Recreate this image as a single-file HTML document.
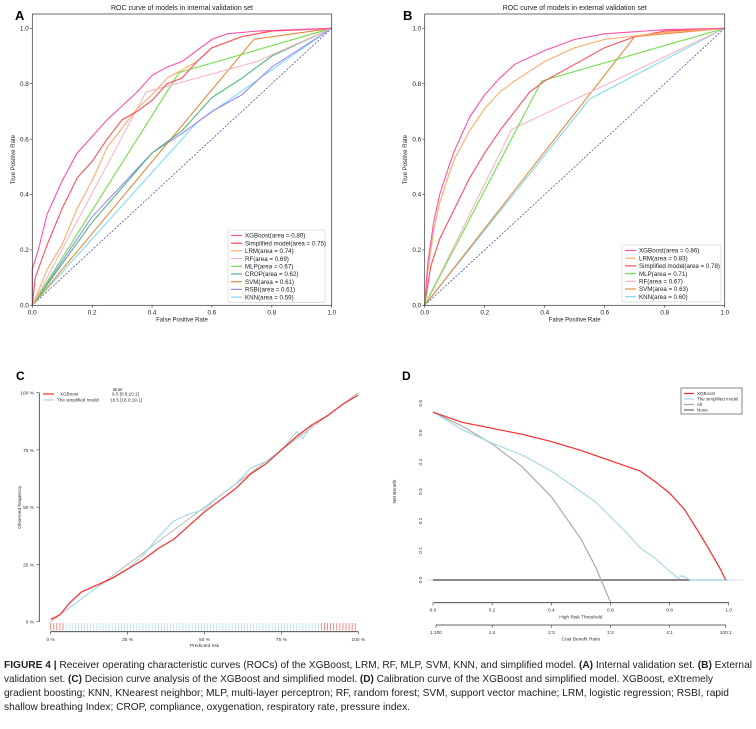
<!DOCTYPE html>
<html><head><meta charset="utf-8"><style>
html,body{margin:0;padding:0;background:#fff;}
svg{display:block;font-family:"Liberation Sans",sans-serif;}
</style></head><body>
<svg id="fig" width="756" height="729" viewBox="0 0 756 729"></svg>
<script>
// ---- ROC data panel A (internal) ----
const rocAnames = ["XGBoost(area = 0.80)","Simplified model(area = 0.75)","LRM(area = 0.74)","RF(area = 0.69)","MLP(area = 0.67)","CROP(area = 0.62)","SVM(area = 0.61)","RSBI(area = 0.61)","KNN(area = 0.59)"];
const rocAcolors = ["#ff4fa8","#ff4d5e","#ffac6a","#f7b6c8","#6ee04a","#4cb87a","#e88a3e","#9b88ff","#7fdcf5"];
const rocAfpr = [
 [0,0,0.02,0.05,0.1,0.15,0.2,0.25,0.3,0.35,0.4,0.45,0.5,0.55,0.6,0.65,0.75,1],
 [0,0.01,0.05,0.1,0.15,0.2,0.25,0.3,0.35,0.4,0.45,0.5,0.55,0.6,0.7,0.8,1],
 [0,0.05,0.1,0.15,0.2,0.25,0.3,0.35,0.4,0.45,0.5,0.55,0.6,0.7,0.8,1],
 [0,0.38,0.75,1],
 [0,0.49,1],
 [0,0.2,0.4,0.5,0.6,0.7,0.8,1],
 [0,0.74,1],
 [0,0.2,0.4,0.5,0.6,0.7,0.8,1],
 [0,0.55,0.8,1]];
const rocAtpr = [
 [0,0.13,0.2,0.33,0.45,0.55,0.61,0.67,0.72,0.77,0.83,0.86,0.88,0.92,0.96,0.98,0.99,1],
 [0,0.1,0.22,0.35,0.46,0.52,0.6,0.67,0.7,0.74,0.8,0.82,0.88,0.93,0.97,0.99,1],
 [0,0.13,0.22,0.35,0.45,0.57,0.64,0.71,0.76,0.82,0.85,0.88,0.93,0.97,0.99,1],
 [0,0.77,0.88,1],
 [0,0.84,1],
 [0,0.3,0.55,0.63,0.75,0.82,0.9,1],
 [0,0.96,1],
 [0,0.32,0.55,0.62,0.7,0.76,0.86,1],
 [0,0.66,0.85,1]];
// ---- ROC data panel B (external) ----
const rocBnames = ["XGBoost(area = 0.86)","LRM(area = 0.83)","Simplified model(area = 0.78)","MLP(area = 0.71)","RF(area = 0.67)","SVM(area = 0.63)","KNN(area = 0.60)"];
const rocBcolors = ["#ff4fa8","#ffac6a","#ff4d5e","#6ee04a","#f7b6c8","#e88a3e","#7fdcf5"];
const rocBfpr = [
 [0,0.01,0.03,0.05,0.08,0.1,0.15,0.2,0.25,0.3,0.4,0.5,0.6,0.8,1],
 [0,0.01,0.03,0.05,0.08,0.1,0.15,0.2,0.25,0.3,0.4,0.5,0.6,0.8,1],
 [0,0.02,0.05,0.1,0.15,0.2,0.25,0.3,0.35,0.4,0.5,0.6,0.7,0.8,1],
 [0,0.39,1],
 [0,0.29,1],
 [0,0.7,1],
 [0,0.55,1]];
const rocBtpr = [
 [0,0.15,0.3,0.4,0.5,0.56,0.68,0.76,0.82,0.87,0.92,0.96,0.98,0.995,1],
 [0,0.12,0.27,0.37,0.47,0.53,0.63,0.71,0.77,0.81,0.88,0.93,0.96,0.985,1],
 [0,0.14,0.24,0.35,0.46,0.55,0.63,0.7,0.77,0.81,0.87,0.93,0.97,0.99,1],
 [0,0.81,1],
 [0,0.635,1],
 [0,0.97,1],
 [0,0.745,1]];
// ---- Calibration (panel C) ----
const calRedX = [0,0.03,0.06,0.1,0.15,0.2,0.25,0.3,0.35,0.4,0.45,0.5,0.55,0.6,0.65,0.7,0.75,0.8,0.85,0.9,0.95,1];
const calRedY = [0.01,0.03,0.08,0.13,0.16,0.19,0.23,0.27,0.32,0.36,0.42,0.48,0.53,0.58,0.645,0.69,0.75,0.81,0.86,0.9,0.95,0.99];
const calBlueX = [0.04,0.1,0.15,0.2,0.25,0.3,0.35,0.4,0.45,0.5,0.55,0.6,0.65,0.7,0.75,0.8,0.82,0.85];
const calBlueY = [0.04,0.1,0.15,0.19,0.23,0.29,0.37,0.44,0.47,0.49,0.55,0.6,0.67,0.7,0.75,0.83,0.8,0.86];
const calTicks = ["0 %","25 %","50 %","75 %","100 %"];
// ---- Decision curve (panel D) ----
const dcaXgbT = [0,0.1,0.2,0.3,0.4,0.5,0.6,0.7,0.75,0.8,0.85,0.9,0.93,0.95,0.97,0.99];
const dcaXgbV = [0.57,0.535,0.515,0.495,0.47,0.44,0.405,0.37,0.335,0.295,0.24,0.16,0.11,0.075,0.04,0];
const dcaSimT = [0,0.1,0.2,0.3,0.4,0.5,0.55,0.6,0.65,0.7,0.75,0.8,0.83,0.84,0.87,1.0];
const dcaSimV = [0.57,0.51,0.465,0.425,0.37,0.30,0.265,0.215,0.165,0.11,0.075,0.03,0.005,0.015,0,0];
const dcaAllT = [0,0.1,0.2,0.3,0.4,0.5,0.55,0.6];
const dcaAllV = [0.57,0.522,0.462,0.386,0.283,0.14,0.044,-0.075];
const dcaYTicks = ["0.0","0.1","0.2","0.3","0.4","0.5","0.6"];
const dcaXTicks = ["0.0","0.2","0.4","0.6","0.8","1.0"];
const dcaCostT = [0.01,0.2,0.4,0.6,0.8,0.99];
const dcaCostL = ["1:100","1:4","2:3","3:2","4:1","100:1"];

const NS="http://www.w3.org/2000/svg";
const svg=document.getElementById('fig');
function mk(tag,attrs,parent,text){const e=document.createElementNS(NS,tag);for(const k in attrs)e.setAttribute(k,attrs[k]);if(text!==undefined)e.textContent=text;(parent||svg).appendChild(e);return e;}
function pts(xs,ys,fx,fy){return xs.map((x,i)=>fx(x).toFixed(2)+','+fy(ys[i]).toFixed(2)).join(' ');}

// ===== ROC panels =====
function rocPanel(opt){
 const g=mk('g',{});
 
 
 const fx=v=>opt.x0+v*opt.w, fy=v=>opt.y0-v*opt.h;
 const t=mk('text',{x:(opt.x0+opt.w/2),y:10,'font-size':7,'text-anchor':'middle',fill:'#222'},g,opt.title);
 
 const L=mk('text',{x:opt.lx,y:20,'font-size':13,'font-weight':'bold',fill:'#000'},g,opt.letter);
 
 // diagonal
 const d=mk('line',{x1:fx(0),y1:fy(0),x2:fx(1),y2:fy(1),stroke:'#3a3aa0','stroke-width':0.7,'stroke-dasharray':'2,1.5'},g);
 
 for(let i=opt.fpr.length-1;i>=0;i--){
  const p=mk('polyline',{points:pts(opt.fpr[i],opt.tpr[i],fx,fy),fill:'none',stroke:opt.colors[i],'stroke-width':1.1},g);
  
 }
 const box=mk('rect',{x:opt.x0,y:14,width:opt.w,height:opt.y0-14,fill:'none',stroke:'#333','stroke-width':0.7},g);
 
 for(let k=0;k<=5;k++){
  const v=k/5;
  mk('line',{x1:fx(v),y1:opt.y0,x2:fx(v),y2:opt.y0+2.5,stroke:'#333','stroke-width':0.6},g);
  const tx=mk('text',{x:fx(v),y:opt.y0+9,'font-size':6.3,'text-anchor':'middle',fill:'#222'},g,v.toFixed(1));
  
  mk('line',{x1:opt.x0-2.5,y1:fy(v),x2:opt.x0,y2:fy(v),stroke:'#333','stroke-width':0.6},g);
  const ty=mk('text',{x:opt.x0-3.5,y:fy(v)+2.2,'font-size':6.3,'text-anchor':'end',fill:'#222'},g,v.toFixed(1));
  
 }
 const xl=mk('text',{x:opt.x0+opt.w/2,y:opt.y0+16,'font-size':6,'text-anchor':'middle',fill:'#222'},g,'False Positive Rate');
 
 const yl=mk('text',{x:0,y:0,'font-size':6,'text-anchor':'middle',fill:'#222',transform:`translate(${opt.ylx},${(14+opt.y0)/2}) rotate(-90)`},g,'True Positive Rate');
 
 // legend
 const lg=mk('g',{},g);
 
 mk('rect',{x:opt.legX,y:opt.legY,width:opt.legW,height:opt.names.length*7.7+3,fill:'#fff',stroke:'#ccc','stroke-width':0.6,rx:1.5},lg);
 opt.names.forEach((n,i)=>{
  const yy=opt.legY+5.5+i*7.7;
  const e=mk('g',{},lg);
  
  mk('line',{x1:opt.legX+3,y1:yy,x2:opt.legX+14,y2:yy,stroke:opt.colors[i],'stroke-width':1.2},e);
  mk('text',{x:opt.legX+17,y:yy+2.2,'font-size':6.2,fill:'#222'},e,n);
 });
}
rocPanel({id:'roc-internal-panel',title:'ROC curve of models in internal validation set',letter:'A',lx:15,x0:32.3,w:299.4,y0:305.3,h:277,ylx:15,fpr:rocAfpr,tpr:rocAtpr,colors:rocAcolors,names:rocAnames,legX:228,legY:230,legW:97});
rocPanel({id:'roc-external-panel',title:'ROC curve of models in external validation set',letter:'B',lx:403,x0:424.7,w:300,y0:305.3,h:277,ylx:407,fpr:rocBfpr,tpr:rocBtpr,colors:rocBcolors,names:rocBnames,legX:622,legY:245,legW:99});

// ===== Panel C calibration =====
(function(){
 const g=mk('g',{});
 
 const fx=v=>50.7+v*307.6, fy=v=>621.7-v*229;
 mk('text',{x:16,y:380,'font-size':12,'font-weight':'bold'},g,'C');
 mk('line',{x1:39.3,y1:fy(1),x2:39.3,y2:fy(0),stroke:'#333','stroke-width':0.8},g);
 mk('line',{x1:fx(0),y1:631.7,x2:fx(1),y2:631.7,stroke:'#333','stroke-width':0.8},g);
 calTicks.forEach((lab,i)=>{
  const v=i/4;
  mk('line',{x1:36.5,y1:fy(v),x2:39.3,y2:fy(v),stroke:'#333','stroke-width':0.6},g);
  const ty=mk('text',{x:34,y:fy(v)+1.8,'font-size':4.8,'text-anchor':'end',fill:'#333'},g,lab);
  
  mk('line',{x1:fx(v),y1:631.7,x2:fx(v),y2:634.5,stroke:'#333','stroke-width':0.6},g);
  const tx=mk('text',{x:fx(v),y:641,'font-size':4.8,'text-anchor':'middle',fill:'#333'},g,lab);
  
 });
 const xl=mk('text',{x:fx(0.5),y:647,'font-size':4.8,'text-anchor':'middle',fill:'#333'},g,'Predicted risk');
 
 const yl=mk('text',{x:0,y:0,'font-size':4.8,'text-anchor':'middle',fill:'#333',transform:`translate(21,${fy(0.5)}) rotate(-90)`},g,'Observed frequency');
 
 // rug
 for(let k=0;k<=99;k++){
  const v=k/100;
  const red=(v<0.045||v>0.875);
  const r=mk('line',{x1:fx(v),y1:623,x2:fx(v),y2:630.5,stroke:red?'#ff5555':'#a8d8e8','stroke-width':0.7},g);
  
 }
 const diag=mk('line',{x1:fx(0),y1:fy(0),x2:fx(1),y2:fy(1),stroke:'#bbb','stroke-width':1},g);
 
 const b=mk('polyline',{points:pts(calBlueX,calBlueY,fx,fy),fill:'none',stroke:'#a8d8e8','stroke-width':1.2},g);
 
 const r=mk('polyline',{points:pts(calRedX,calRedY,fx,fy),fill:'none',stroke:'#ff2a2a','stroke-width':1.2},g);
 
 const lg=mk('g',{},g);
 
 mk('text',{x:118,y:391,'font-size':4.6,'text-anchor':'middle',fill:'#333'},lg,'Brier');
 mk('line',{x1:43,y1:394,x2:54,y2:394,stroke:'#ff2a2a','stroke-width':1.2},lg);
 mk('text',{x:60,y:395.5,'font-size':4.6,fill:'#333'},lg,'XGBoost');
 mk('text',{x:112,y:395.5,'font-size':4.6,fill:'#333'},lg,'9.5 [8.9;10.1]');
 mk('line',{x1:43,y1:400,x2:54,y2:400,stroke:'#a8d8e8','stroke-width':1.2},lg);
 mk('text',{x:57,y:401.5,'font-size':4.6,fill:'#333'},lg,'The simplified model');
 mk('text',{x:110,y:401.5,'font-size':4.6,fill:'#333'},lg,'18.5 [18.0;19.1]');
})();

// ===== Panel D decision curve =====
(function(){
 const g=mk('g',{});
 
 const fx=t=>433+t*295.7, fy=v=>580-v*294.5;
 mk('text',{x:402,y:380,'font-size':12,'font-weight':'bold'},g,'D');
 dcaYTicks.forEach((lab,i)=>{
  const ty=mk('text',{x:0,y:0,'font-size':4.8,'text-anchor':'middle',fill:'#333',transform:`translate(422,${fy(i/10)}) rotate(-90)`},g,lab);
  
 });
 const yl=mk('text',{x:0,y:0,'font-size':4.8,'text-anchor':'middle',fill:'#333',transform:`translate(396,${fy(0.3)}) rotate(-90)`},g,'Net Benefit');
 
 mk('line',{x1:fx(-0.02),y1:fy(0),x2:fx(1.05),y2:fy(0),stroke:'#eee','stroke-width':2},g);
 const none=mk('line',{x1:fx(0),y1:fy(0),x2:fx(0.87),y2:fy(0),stroke:'#666','stroke-width':1.6},g);
 
 const all=mk('polyline',{points:pts(dcaAllT,dcaAllV,fx,fy),fill:'none',stroke:'#aaa','stroke-width':1.2},g);
 
 const s=mk('polyline',{points:pts(dcaSimT,dcaSimV,fx,fy),fill:'none',stroke:'#a8d8e8','stroke-width':1.2},g);
 
 const x=mk('polyline',{points:pts(dcaXgbT,dcaXgbV,fx,fy),fill:'none',stroke:'#ff2a2a','stroke-width':1.2},g);
 
 // axes
 mk('line',{x1:fx(0),y1:602.7,x2:fx(1),y2:602.7,stroke:'#333','stroke-width':0.8},g);
 dcaXTicks.forEach((lab,i)=>{
  const v=i/5;
  mk('line',{x1:fx(v),y1:602.7,x2:fx(v),y2:605.5,stroke:'#333','stroke-width':0.6},g);
  const tx=mk('text',{x:fx(v),y:611.5,'font-size':4.8,'text-anchor':'middle',fill:'#333'},g,lab);
  
 });
 const xl=mk('text',{x:fx(0.5),y:618.5,'font-size':4.8,'text-anchor':'middle',fill:'#333'},g,'High Risk Threshold');
 
 mk('line',{x1:fx(0.01),y1:625,x2:fx(0.99),y2:625,stroke:'#333','stroke-width':0.8},g);
 dcaCostT.forEach((v,i)=>{
  mk('line',{x1:fx(v),y1:625,x2:fx(v),y2:627.8,stroke:'#333','stroke-width':0.6},g);
  const tx=mk('text',{x:fx(v),y:634,'font-size':4.8,'text-anchor':'middle',fill:'#333'},g,dcaCostL[i]);
  
 });
 const cl=mk('text',{x:fx(0.5),y:640.5,'font-size':4.8,'text-anchor':'middle',fill:'#333'},g,'Cost Benefit Ratio');
 
 const lg=mk('g',{},g);
 
 mk('rect',{x:681,y:388,width:61,height:26,fill:'#fff',stroke:'#555','stroke-width':0.7},lg);
 [['XGBoost','#ff2a2a'],['The simplified model','#a8d8e8'],['All','#aaa'],['None','#666']].forEach((e,i)=>{
  const yy=393.5+i*5.5;
  mk('line',{x1:684,y1:yy,x2:694,y2:yy,stroke:e[1],'stroke-width':1.2},lg);
  mk('text',{x:697,y:yy+1.6,'font-size':4.5,fill:'#333'},lg,e[0]);
 });
})();

// ===== Caption =====
(function(){
 const g=mk('g',{'font-size':10.3,fill:'#222'});
 
 const l1=mk('text',{x:4,y:668,textLength:748,lengthAdjust:'spacingAndGlyphs'},g);
 mk('tspan',{'font-weight':'bold'},l1,'FIGURE 4 | ');
 mk('tspan',{},l1,'Receiver operating characteristic curves (ROCs) of the XGBoost, LRM, RF, MLP, SVM, KNN, and simplified model. ');
 mk('tspan',{'font-weight':'bold'},l1,'(A)');
 mk('tspan',{},l1,' Internal validation set. ');
 mk('tspan',{'font-weight':'bold'},l1,'(B)');
 mk('tspan',{},l1,' External');
 const l2=mk('text',{x:4,y:682,textLength:709,lengthAdjust:'spacingAndGlyphs'},g);
 mk('tspan',{},l2,'validation set. ');
 mk('tspan',{'font-weight':'bold'},l2,'(C)');
 mk('tspan',{},l2,' Decision curve analysis of the XGBoost and simplified model. ');
 mk('tspan',{'font-weight':'bold'},l2,'(D)');
 mk('tspan',{},l2,' Calibration curve of the XGBoost and simplified model. XGBoost, eXtremely');
 mk('text',{x:4,y:696,textLength:725,lengthAdjust:'spacingAndGlyphs'},g,'gradient boosting; KNN, KNearest neighbor; MLP, multi-layer perceptron; RF, random forest; SVM, support vector machine; LRM, logistic regression; RSBI, rapid');
 mk('text',{x:4,y:710,textLength:406,lengthAdjust:'spacingAndGlyphs'},g,'shallow breathing Index; CROP, compliance, oxygenation, respiratory rate, pressure index.');
})();
</script>
</body></html>
